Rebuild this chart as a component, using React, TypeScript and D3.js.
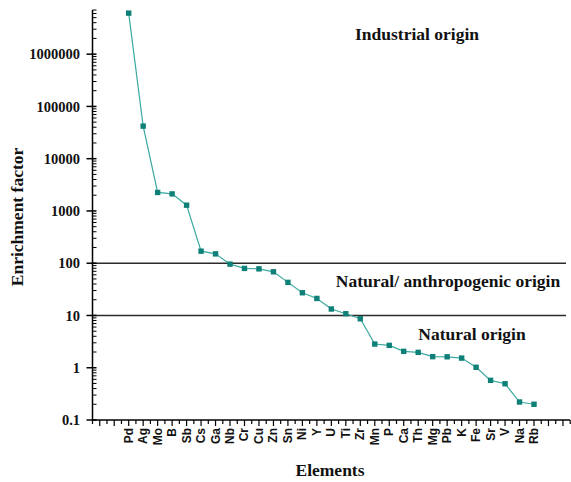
import React from 'react';
import * as d3 from 'd3';

// Enrichment factor by element
const elements = ['Pd', 'Ag', 'Mo', 'B', 'Sb', 'Cs', 'Ga', 'Nb', 'Cr', 'Cu', 'Zn', 'Sn', 'Ni', 'Y', 'U', 'Ti', 'Zr',
  'Mn', 'P', 'Ca', 'Th', 'Mg', 'Pb', 'K', 'Fe', 'Sr', 'V', 'Na', 'Rb'];
const enrichment = [6.1e6, 4.2e4, 2260, 2120, 1290, 170, 151, 96, 79.5, 78, 68.5, 43, 27.2, 21.2, 13.3, 10.8, 8.65,
  2.84, 2.68, 2.06, 1.97, 1.63, 1.62, 1.53, 1.02, 0.574, 0.494, 0.221, 0.2];
const thresholds = [10, 100];
const yTicks = [0.1, 1, 10, 100, 1000, 10000, 100000, 1000000];
const zones = [
  { label: 'Industrial origin', x: 417, y: 40 },
  { label: 'Natural/ anthropogenic origin', x: 448, y: 287 },
  { label: 'Natural origin', x: 472, y: 340 },
];

const W = 571, H = 482;
const left = 92.5, right = 570, top = 10, bottom = 420;
const serif = '"Liberation Serif", "Times New Roman", serif';
const sans = '"Liberation Sans", Arial, sans-serif';

export default function App() {
  const x = d3.scaleLinear().domain([-2.5, 30.5]).range([left, right + 0.2]);
  const y = d3.scaleLog().domain([0.1, 7e6]).range([bottom, top]);

  const line = d3.line<number>()
    .x((d, i) => x(i))
    .y(d => y(d));

  // minor log ticks 2..9 in every decade, up to the top of the axis
  const minor: number[] = [];
  for (let e = -1; e <= 6; e++) {
    for (let m = 2; m <= 9; m++) {
      const v = m * Math.pow(10, e);
      if (v <= 7e6) minor.push(v);
    }
  }

  const xTicks = d3.range(-2.5, 30.51, 0.5);

  return (
    <svg width={W} height={H} style={{ position: 'absolute', left: 0, top: 0, background: '#fff' }}>
      {/* threshold lines */}
      {thresholds.map(t => (
        <line key={t} x1={left} x2={566} y1={y(t)} y2={y(t)} stroke="#2b2b2b" strokeWidth={1.5} />
      ))}

      {/* y axis */}
      <line x1={left} x2={left} y1={top} y2={bottom} stroke="#000" strokeWidth={1.5} />
      {minor.map(v => (
        <line key={'m' + v} x1={left} x2={left + 4} y1={y(v)} y2={y(v)} stroke="#000" strokeWidth={1} />
      ))}
      {yTicks.map(v => (
        <g key={'t' + v}>
          <line x1={left - 6} x2={left + 4} y1={y(v)} y2={y(v)} stroke="#000" strokeWidth={1.5} />
          <text x={80} y={y(v)} dy="0.35em" textAnchor="end" fontFamily={serif} fontWeight="bold" fontSize={14.5}
            fill="#111">{d3.format('~')(v)}</text>
        </g>
      ))}

      {/* x axis */}
      <line x1={left} x2={right} y1={bottom} y2={bottom} stroke="#000" strokeWidth={1.5} />
      {xTicks.map(t => (
        <line key={'x' + t} x1={x(t)} x2={x(t)} y1={bottom} y2={bottom + (Number.isInteger(t) ? 6 : 4)}
          stroke="#000" strokeWidth={1.2} />
      ))}
      {elements.map((el, i) => (
        <text key={el} transform={`translate(${x(i)},428) rotate(-90)`} textAnchor="end" dominantBaseline="central"
          fontFamily={sans} fontWeight="bold" fontSize={12} fill="#111">{el}</text>
      ))}

      {/* series */}
      <path d={line(enrichment) || ''} fill="none" stroke="#3aa9a1" strokeWidth={1.2} />
      {enrichment.map((v, i) => (
        <rect key={elements[i]} x={x(i) - 2.7} y={y(v) - 2.7} width={5.4} height={5.4} fill="#0e8077" />
      ))}

      {/* zone labels */}
      {zones.map(z => (
        <text key={z.label} x={z.x} y={z.y} textAnchor="middle" fontFamily={serif} fontWeight="bold" fontSize={17.5}
          fill="#111">{z.label}</text>
      ))}

      {/* axis titles */}
      <text x={330} y={476} textAnchor="middle" fontFamily={serif} fontWeight="bold" fontSize={17.5} fill="#111">Elements</text>
      <text transform="translate(23,217) rotate(-90)" textAnchor="middle" fontFamily={serif} fontWeight="bold"
        fontSize={17.5} fill="#111">Enrichment factor</text>
    </svg>
  );
}
